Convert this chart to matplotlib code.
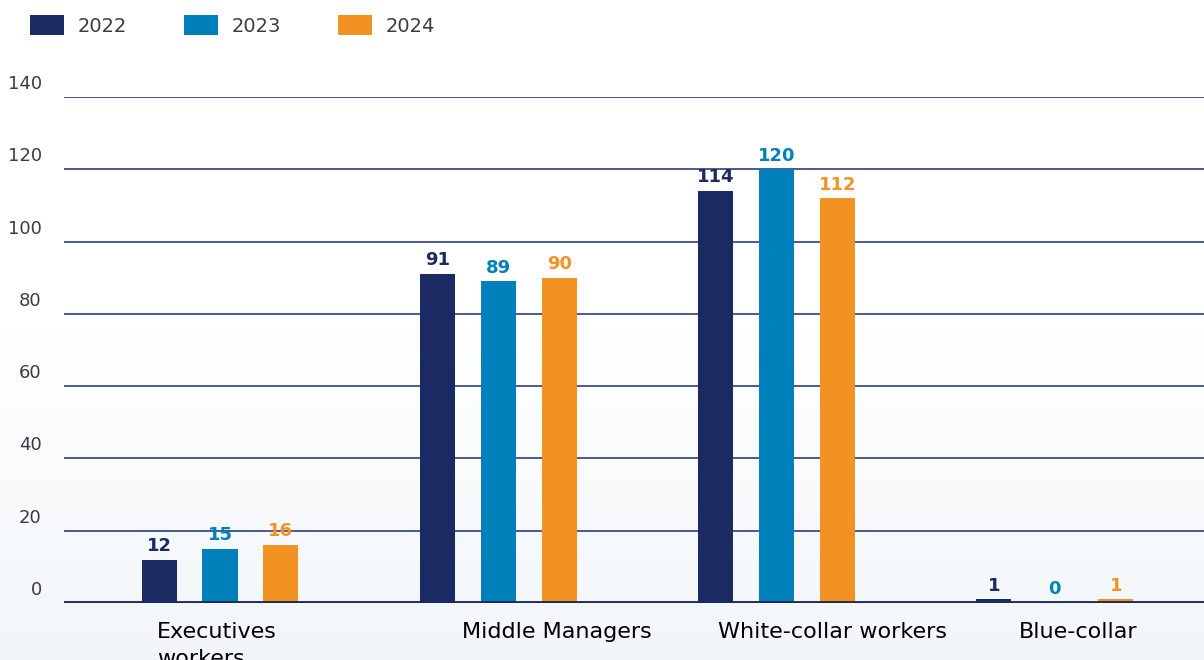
import matplotlib.pyplot as plt
import matplotlib.transforms as mtransforms
import numpy as np

# data
categories = ["Executives\nworkers", "Middle Managers", "White-collar workers", "Blue-collar"]
years = ["2022", "2023", "2024"]
values_2022 = [12, 91, 114, 1]
values_2023 = [15, 89, 120, 0]
values_2024 = [16, 90, 112, 1]
y_ticks = [0, 20, 40, 60, 80, 100, 120, 140]

colors = ["#1b2a63", "#0080bb", "#f29222"]
grid_color = "#4a5893"
tick_color = "#3b3b46"
label_font = "DejaVu Sans"

fig = plt.figure(figsize=(12.04, 6.6), dpi=100)
fig.patch.set_facecolor("white")

# faint bluish wash toward the lower part of the figure
bg = fig.add_axes([0, 0, 1, 1], zorder=-10)
grad = np.linspace(0, 1, 256)[:, None] * np.ones((1, 2))
bg.imshow(grad, aspect="auto", extent=(0, 1, 0, 1), origin="upper",
          cmap=plt.matplotlib.colors.LinearSegmentedColormap.from_list(
              "wash", ["#ffffff", "#ffffff", "#f2f6fa"]))
bg.axis("off")

ax = fig.add_axes([64 / 1204, 57 / 660, 1 - 64 / 1204, 506 / 660])
ax.patch.set_alpha(0)

x = np.arange(len(categories))
width = 0.126
step = 0.219
series = [values_2022, values_2023, values_2024]
for i, (vals, col, yr) in enumerate(zip(series, colors, years)):
    pos = x + (i - 1) * step
    ax.bar(pos, vals, width=width, color=col, label=yr, zorder=2)
    for px, v in zip(pos, vals):
        ax.text(px, v + 1.3, str(v), ha="center", va="bottom",
                fontsize=13, fontweight="bold", color=col, zorder=4)

ax.set_xlim(-0.5605, 3.536)
ax.set_ylim(0, 140)

for t in y_ticks[1:]:
    ax.axhline(t, color=grid_color, lw=1.4, zorder=1)
ax.axhline(0, color="#1c2a5e", lw=3.5, zorder=3)

for s in ax.spines.values():
    s.set_visible(False)

ax.set_xticks([])
ax.set_yticks(y_ticks)
ax.tick_params(axis="y", length=0, pad=16, labelsize=13, labelcolor=tick_color)
offset = mtransforms.ScaledTranslation(0, 15 / 100, fig.dpi_scale_trans)
for lbl in ax.get_yticklabels():
    lbl.set_transform(lbl.get_transform() + offset)

# category names, left-aligned under each group
label_offsets = [-0.226, -0.129, -0.212, -0.129]
trans = mtransforms.blended_transform_factory(ax.transData, ax.transAxes)
for xi, name, off in zip(x, categories, label_offsets):
    ax.text(xi + off, -0.038, name, transform=trans, ha="left", va="top",
            fontsize=16, color="black", family=label_font, linespacing=1.4,
            clip_on=False)

fig.legend(loc="upper left", bbox_to_anchor=(30 / 1204, 1 - 15 / 660),
           ncol=3, frameon=False, fontsize=14, handlelength=1.75,
           handleheight=1.2, handletextpad=0.72, columnspacing=2.9,
           borderpad=0, borderaxespad=0, labelcolor=tick_color)

fig.savefig("out.png", dpi=100)
